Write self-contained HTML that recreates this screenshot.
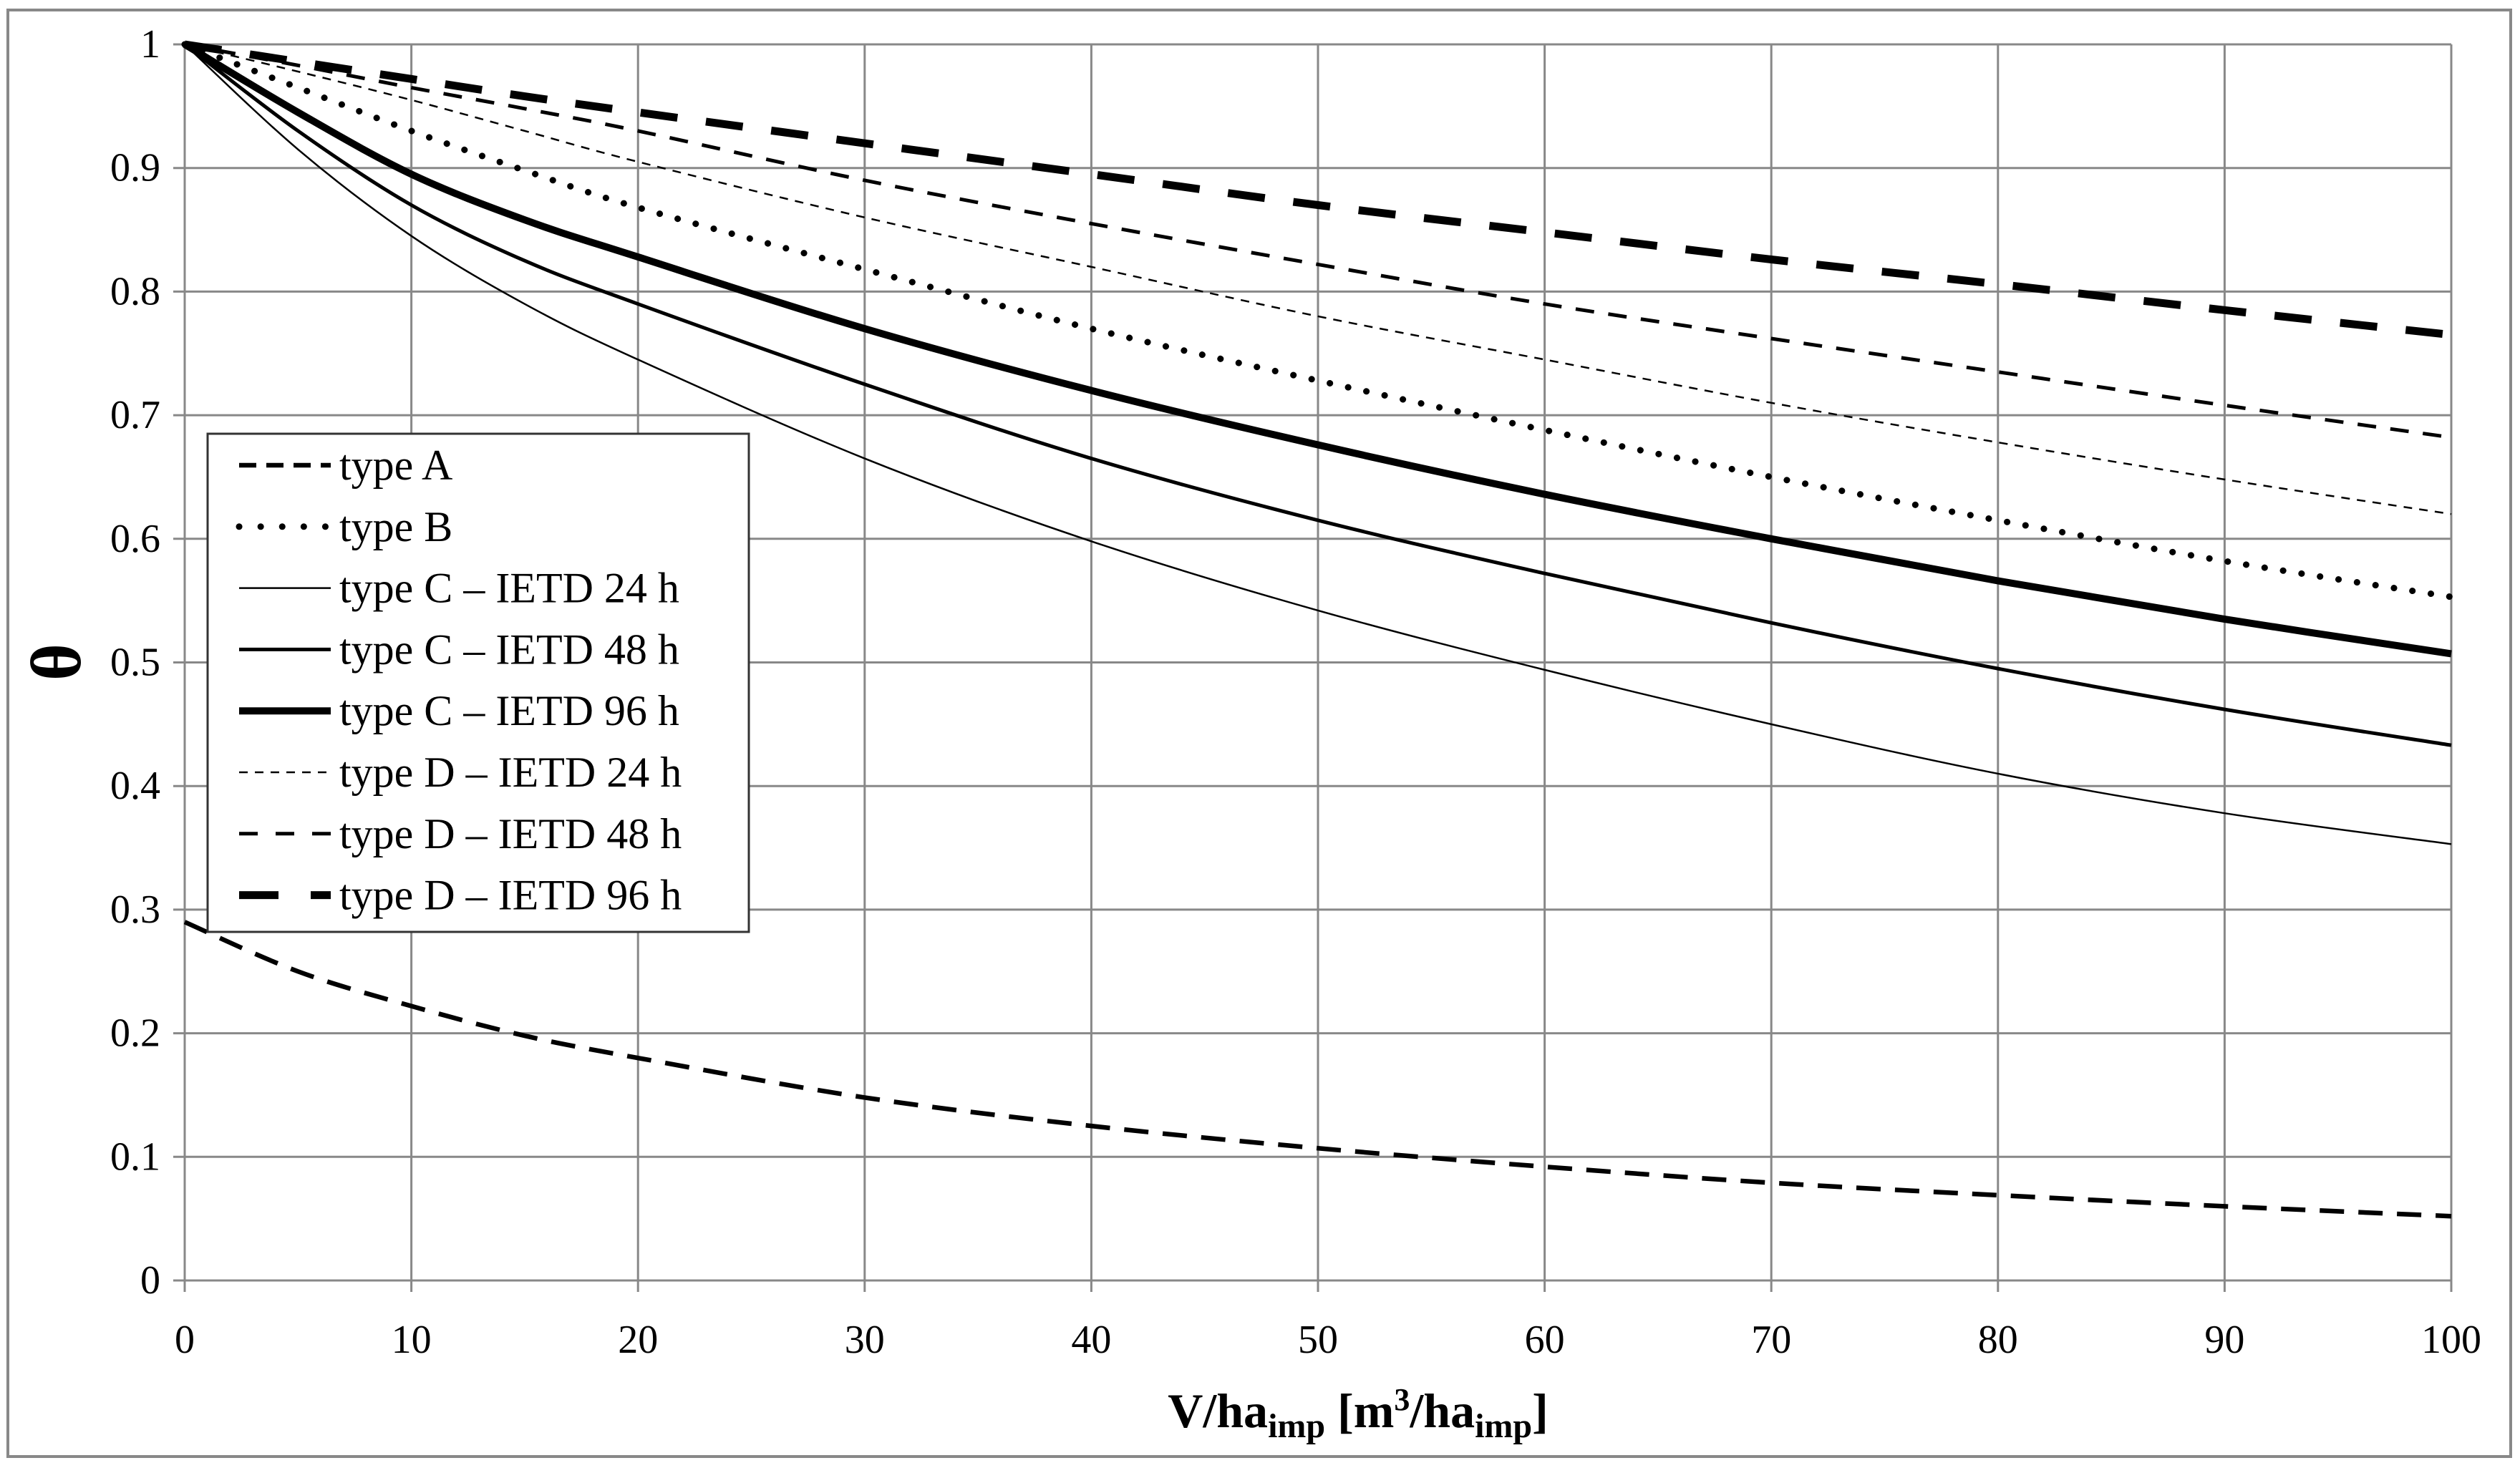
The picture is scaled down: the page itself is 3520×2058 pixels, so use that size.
<!DOCTYPE html>
<html><head><meta charset="utf-8"><style>
html,body{margin:0;padding:0;background:#fff}
svg{display:block}
text{font-family:"Liberation Serif",serif;fill:#000}
</style></head><body>
<svg id="chart" width="3520" height="2058" viewBox="0 0 3520 2058">
<rect x="11" y="14" width="3496" height="2021" fill="#fff" stroke="#888" stroke-width="4"/>
<g id="grid"></g>
<g id="ticks"></g>
<g id="series"></g>
<text x="1897" y="1994" font-size="68" font-weight="bold" text-anchor="middle">V/ha<tspan font-size="48" dy="14">imp</tspan><tspan dy="-14"> [m</tspan><tspan font-size="44" dy="-24">3</tspan><tspan dy="24">/ha</tspan><tspan font-size="48" dy="14">imp</tspan><tspan dy="-14">]</tspan></text>
<text transform="translate(112,925) rotate(-90)" font-size="100" font-weight="bold" text-anchor="middle">θ</text>
<g id="legend"></g>
</svg>
<script>
const xs = [0,5,10,15,20,30,40,50,60,70,80,90,100];
const typeA = [0.29,0.25,0.222,0.198,0.18,0.148,0.125,0.107,0.092,0.079,0.069,0.06,0.052];
const typeB = [1,0.965,0.93,0.898,0.868,0.818,0.77,0.728,0.688,0.65,0.615,0.582,0.553];
const typeC24 = [1,0.915,0.845,0.79,0.745,0.665,0.598,0.542,0.494,0.45,0.41,0.378,0.353];
const typeC48 = [1,0.93,0.87,0.825,0.79,0.725,0.665,0.615,0.572,0.532,0.495,0.462,0.433];
const typeC96 = [1,0.945,0.895,0.858,0.828,0.77,0.72,0.676,0.636,0.6,0.566,0.535,0.507];
const typeD24 = [1,0.978,0.955,0.93,0.905,0.86,0.82,0.78,0.745,0.71,0.678,0.648,0.62];
const typeD48 = [1,0.983,0.965,0.948,0.93,0.89,0.855,0.822,0.79,0.762,0.735,0.708,0.682];
const typeD96 = [1,0.986,0.972,0.958,0.945,0.92,0.895,0.87,0.848,0.826,0.806,0.785,0.765];
const xTicks = [0,10,20,30,40,50,60,70,80,90,100];
const yTicks = [0,0.1,0.2,0.3,0.4,0.5,0.6,0.7,0.8,0.9,1];
const yTickLabels = ["0","0.1","0.2","0.3","0.4","0.5","0.6","0.7","0.8","0.9","1"];
const legendLabels = ["type A","type B","type C – IETD 24 h","type C – IETD 48 h","type C – IETD 96 h","type D – IETD 24 h","type D – IETD 48 h","type D – IETD 96 h"];

const NS="http://www.w3.org/2000/svg";
const X0=258,X1=3424,Y0=1789,Y1=62;
const sx=v=>X0+(v/100)*(X1-X0);
const sy=v=>Y0-v*(Y0-Y1);
function mk(tag,attrs,parent){const e=document.createElementNS(NS,tag);for(const k in attrs)e.setAttribute(k,attrs[k]);parent.appendChild(e);return e;}
const grid=document.getElementById('grid'),ticks=document.getElementById('ticks'),series=document.getElementById('series'),legend=document.getElementById('legend');
xTicks.forEach(t=>{
  const l=mk('line',{x1:sx(t),x2:sx(t),y1:Y1,y2:Y0+16,stroke:'#888','stroke-width':3},grid);
  
  
  const tx=mk('text',{x:sx(t),y:1890,'font-size':56,'text-anchor':'middle'},ticks);
  tx.textContent=t;
  
  
});
yTicks.forEach((t,i)=>{
  const l=mk('line',{x1:X0-16,x2:X1,y1:sy(t),y2:sy(t),stroke:'#888','stroke-width':3},grid);
  
  
  const tx=mk('text',{x:224,y:sy(t)+18,'font-size':56,'text-anchor':'end'},ticks);
  tx.textContent=yTickLabels[i];
  
  
});
function pathD(ys){
  const p=xs.map((x,i)=>[sx(x),sy(ys[i])]);
  let d='M'+p[0][0]+','+p[0][1];
  for(let i=0;i<p.length-1;i++){
    const a=p[i-1]||p[i],b=p[i],c=p[i+1],e=p[i+2]||c;
    const c1=[b[0]+(c[0]-a[0])/6,b[1]+(c[1]-a[1])/6],c2=[c[0]-(e[0]-b[0])/6,c[1]-(e[1]-b[1])/6];
    d+=' C'+c1.join(',')+' '+c2.join(',')+' '+c.join(',');
  }
  return d;
}
const styles=[
  {data:typeA,w:6.5,dash:'34 20',cap:'butt',name:'type-a-line',ld:'24 14'},
  {data:typeB,w:9,dash:'0.1 26',cap:'round',name:'type-b-line',ld:'0.1 30'},
  {data:typeC24,w:2.5,dash:'',cap:'butt',name:'type-c-24h-line',ld:''},
  {data:typeC48,w:5,dash:'',cap:'butt',name:'type-c-48h-line',ld:''},
  {data:typeC96,w:10,dash:'',cap:'butt',name:'type-c-96h-line',ld:''},
  {data:typeD24,w:2.5,dash:'12 10',cap:'butt',name:'type-d-24h-line',ld:'12 10'},
  {data:typeD48,w:5,dash:'26 20',cap:'butt',name:'type-d-48h-line',ld:'26 25'},
  {data:typeD96,w:11,dash:'52 40',cap:'butt',name:'type-d-96h-line',ld:'55 45'}
];
styles.forEach(s=>{
  const a={d:pathD(s.data),fill:'none',stroke:'#000','stroke-width':s.w,'stroke-linecap':s.cap};
  if(s.dash)a['stroke-dasharray']=s.dash;
  const p=mk('path',a,series);
  
  
});
const box=mk('rect',{x:290,y:606,width:756,height:696,fill:'#fff',stroke:'#333','stroke-width':3},legend);


legendLabels.forEach((lab,i)=>{
  const y=650+i*85.8,s=styles[i];
  const a={x1:334,x2:462,y1:y,y2:y,stroke:'#000','stroke-width':s.w,'stroke-linecap':s.cap};
  if(s.ld)a['stroke-dasharray']=s.ld;
  const l=mk('line',a,legend);
  
  
  const t=mk('text',{x:474,y:y+20,'font-size':60},legend);
  t.textContent=lab;
  
  
});
</script>
</body></html>
